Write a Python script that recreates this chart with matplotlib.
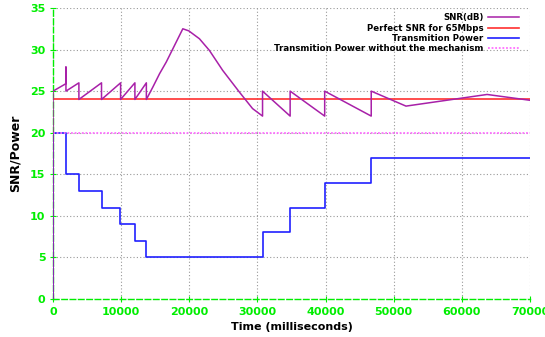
import matplotlib
matplotlib.use("Agg")
import matplotlib.pyplot as plt

# SNR series (time in ms, value in dB)
snr_t = [0, 0, 1900, 1900, 1900, 3800, 3800, 7120, 7120, 9920, 9920, 12020, 12020,
         13700, 13700, 14660, 15640, 16620, 17350, 19050, 19930, 21490, 22950, 24900,
         27340, 29290, 30750, 30750, 34800, 34800, 39870, 39870, 46700, 46700,
         51800, 63700, 70000]
snr_v = [0, 25, 25.9, 27.9, 25, 26, 24, 26, 24, 26, 24, 26, 24,
         26, 24, 25.5, 27.1, 28.5, 29.7, 32.5, 32.25, 31.3, 29.9, 27.5,
         24.9, 22.9, 22, 25, 22, 25, 22, 25, 22, 25,
         23.2, 24.6, 23.9]

# Transmission power steps
power_t = [0, 0, 1850, 3800, 7120, 9900, 12000, 13700, 30750, 34800, 39870, 46700, 70000]
power_v = [0, 20, 15, 13, 11, 9, 7, 5, 8, 11, 14, 17, 17]

perfect_snr = 24
power_without = 20
x_range = [0, 70000]

x_ticks = [0, 10000, 20000, 30000, 40000, 50000, 60000, 70000]
y_ticks = [0, 5, 10, 15, 20, 25, 30, 35]

labels = ["SNR(dB)", "Perfect SNR for 65Mbps", "Transmition Power",
          "Transmition Power without the mechanism"]

fig = plt.figure(figsize=(5.45, 3.37), dpi=100)
ax = fig.add_axes([53/545, 1-299/337, (530-53)/545, (299-8)/337])

green = "#00ee00"
ax.plot(snr_t, snr_v, color="#a820a8", lw=1.1, label=labels[0], zorder=4)
ax.plot(x_range, [perfect_snr]*2, color="#ff3030", lw=1.2, label=labels[1], zorder=3)
ax.step(power_t, power_v, where="post", color="#2020ff", lw=1.2, label=labels[2], zorder=3)
ax.plot(x_range, [power_without]*2, color="#ff70ff", lw=1.3, ls=(0, (1, 1)), label=labels[3], zorder=3)

ax.set_xlim(0, 70000)
ax.set_ylim(0, 35)
ax.set_xticks(x_ticks)
ax.set_yticks(y_ticks)
ax.grid(True, color="#999999", ls=(0, (1, 2)), lw=0.8)
for s in ["top", "right"]:
    ax.spines[s].set_visible(False)
for s in ["bottom", "left"]:
    ax.spines[s].set_color(green)
    ax.spines[s].set_linestyle((0, (4, 2)))
    ax.spines[s].set_linewidth(1.0)
ax.tick_params(colors=green, labelcolor=green, direction="inout", length=4, labelsize=8)
for lab in ax.get_xticklabels() + ax.get_yticklabels():
    lab.set_fontweight("bold")

ax.set_xlabel("Time (milliseconds)", fontsize=8, fontweight="bold", labelpad=4)
ax.set_ylabel("SNR/Power", fontsize=9, fontweight="bold", labelpad=6)

leg = ax.legend(loc="upper right", bbox_to_anchor=(1 - 8/477, 1 - 2/291), frameon=False,
                markerfirst=False, prop={"size": 6.2, "weight": "bold"},
                handlelength=3.6, handletextpad=0.5, labelspacing=0.15,
                borderaxespad=0.0)

fig.savefig("out.png", dpi=100)
